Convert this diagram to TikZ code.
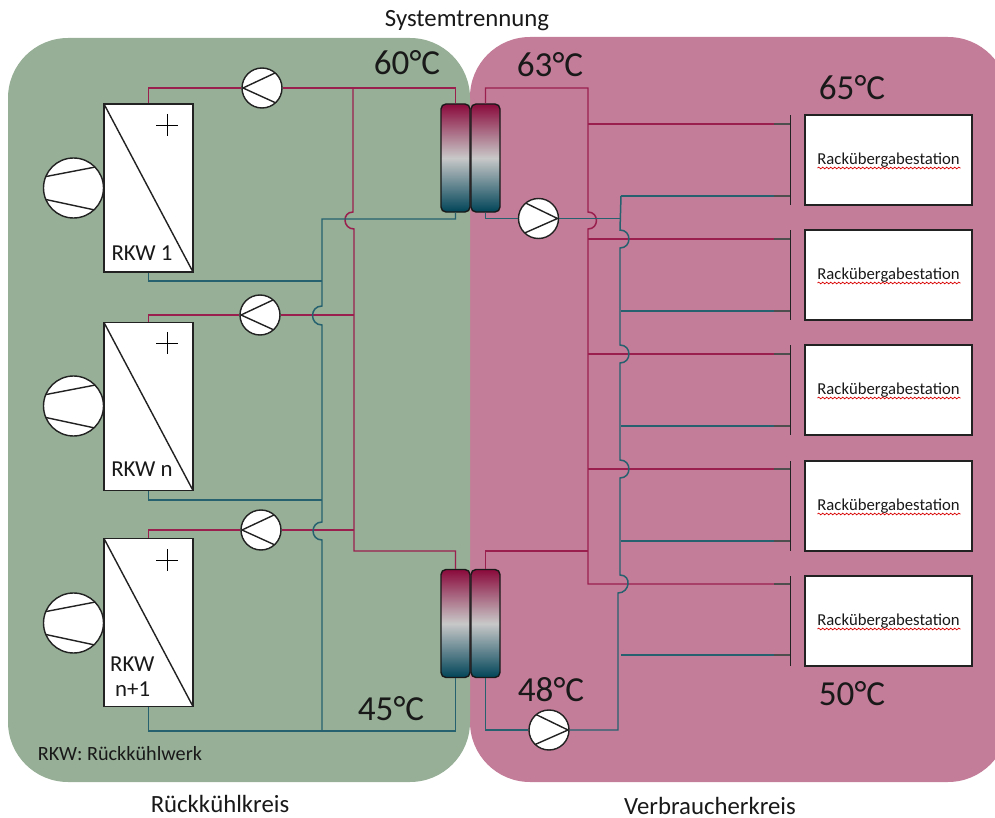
\documentclass[tikz,border=0pt]{standalone}
\usepackage{fontspec}
\setmainfont{Carlito}
\usetikzlibrary{calc, decorations.pathmorphing}
\definecolor{kuehlgreen}{HTML}{96AF96}
\definecolor{verbrpink}{HTML}{C47D98}
\definecolor{hotline}{HTML}{9A1F4F}
\definecolor{coldline}{HTML}{25616F}
\definecolor{hxhot}{HTML}{8A0A3C}
\definecolor{hxmid}{HTML}{C8C8C8}
\definecolor{hxcold}{HTML}{004458}
\definecolor{darkline}{HTML}{222222}

\begin{document}
\begin{tikzpicture}[
    x=0.2mm, y=-0.2mm,
    every node/.style={font=\normalsize, text=black!90},
    hot/.style={draw=hotline, line width=0.85pt},
    cold/.style={draw=coldline, line width=0.85pt},
    stub/.style={draw=darkline!80, line width=0.85pt},
    jumpl/.style={out=180, in=180, looseness=1.7},
    jumpr/.style={out=0, in=0, looseness=1.7},
    rkw/.style={rectangle, draw=darkline, fill=white, line width=0.9pt, minimum width=17.8mm, minimum height=33.6mm, inner sep=0pt,
        path picture={\draw[darkline, line width=0.8pt] (path picture bounding box.north west) -- (path picture bounding box.south east);}},
    fan/.style={circle, draw=darkline, fill=white, line width=0.8pt, minimum size=12mm, inner sep=0pt,
        path picture={\draw[darkline, line width=0.8pt]
            ([shift={(-30,-11)}]path picture bounding box.center) -- ([shift={(22,-21)}]path picture bounding box.center)
            ([shift={(-30,11)}]path picture bounding box.center) -- ([shift={(26,23)}]path picture bounding box.center);}},
    pumpl/.style={circle, draw=darkline, fill=white, line width=0.8pt, minimum size=8mm, inner sep=0pt,
        path picture={\draw[darkline, line width=0.8pt]
            ([shift={(13,-15)}]path picture bounding box.center) -- ([shift={(-19,0)}]path picture bounding box.center) -- ([shift={(14,15)}]path picture bounding box.center);}},
    pumpr/.style={circle, draw=darkline, fill=white, line width=0.8pt, minimum size=8mm, inner sep=0pt,
        path picture={\draw[darkline, line width=0.8pt]
            ([shift={(-14,-16)}]path picture bounding box.center) -- ([shift={(19,0)}]path picture bounding box.center) -- ([shift={(-15,15)}]path picture bounding box.center);}},
    hx/.style={rectangle, rounded corners=1mm, draw=black!90, line width=0.8pt, minimum width=5.8mm, minimum height=21.6mm, inner sep=0pt,
        top color=hxhot, bottom color=hxcold, middle color=hxmid},
    rack/.style={rectangle, draw=darkline, fill=white, line width=0.9pt, minimum width=33.4mm, minimum height=18mm, inner sep=0pt, font=\fontsize{9.5}{11}\selectfont},
    railbar/.style={rectangle, fill=darkline, minimum width=0.8pt, minimum height=18mm, inner sep=0pt},
    plus/.style={draw=black, line width=0.5pt},
    temp/.style={font=\fontsize{20}{24}\selectfont},
    circlab/.style={font=\fontsize{14.1}{17}\selectfont, inner sep=0pt},
    rkwlab/.style={font=\fontsize{13}{16}\selectfont, align=left},
    squig/.style={draw=red!85!black, line width=0.4pt, decorate, decoration={snake, segment length=0.8mm, amplitude=0.18mm}}
]
\useasboundingbox (0,0) rectangle (995,818);

% Circuit backgrounds
\fill[verbrpink, rounded corners=12mm] (470,37) rectangle (1008,782);
\fill[kuehlgreen, rounded corners=12mm] (8,38) rectangle (470,782);

% Dry coolers
\node[rkw] (rkwa) at (148.5,188) {};
\node[rkw] (rkwb) at (148.5,406.5) {};
\node[rkw] (rkwc) at (148.5,622.5) {};
\node[fan] (fana) at (73.5,188) {};
\node[fan] (fanb) at (73.5,406) {};
\node[fan] (fanc) at (73.5,623) {};
\node[pumpl] (pumpa) at (262,88) {};
\node[pumpl] (pumpb) at (260,315) {};
\node[pumpl] (pumpc) at (261,530) {};
\foreach \i/\py in {a/125, b/343, c/560} {
    \draw[plus] (156,\py) -- (178,\py) (167,\py-11) -- (167,\py+11);
}
\node[rkwlab] (laba) at (142,253) {RKW 1};
\node[rkwlab] (labb) at (142,469) {RKW n};
\node[rkwlab, anchor=west] (labc) at (104,664) {RKW};
\node[rkwlab, anchor=west] (labd) at (109,689) {n+1};

% Heat exchangers
\node[hx] (hxal) at (455.5,158) {};
\node[hx] (hxar) at (485.5,158) {};
\node[hx] (hxbl) at (455.5,623.5) {};
\node[hx] (hxbr) at (485.5,623.5) {};

% Consumer side pumps
\node[pumpr] (pumpd) at (538.5,218.5) {};
\node[pumpr] (pumpe) at (549,730) {};

% Rack stations
\foreach \i/\ry/\yh/\yc in {1/160/124/196, 2/275/239/311, 3/390/354/426, 4/506/469/541, 5/621/584/655} {
    \node[rack] (rack\i) at (888.5,\ry) {Rackübergabestation};
    \node[railbar] (bar\i) at (790.5,\ry) {};
    \coordinate (hin\i) at (790,\yh);
    \coordinate (cin\i) at (790,\yc);
    \coordinate (cup\i) at (620,\yh-9);
    \coordinate (cdn\i) at (620,\yh+9);
    \draw[squig] ([shift={(-71,8)}]rack\i.center) -- ([shift={(72,8)}]rack\i.center);
}

% Coordinates of the pipe runs
\coordinate (ltop) at (353,88);
\coordinate (ljup) at (353,212);
\coordinate (ljdn) at (354,229);
\coordinate (lbot) at (354,551);
\coordinate (lcold) at (322,219);
\coordinate (lca) at (322,281);
\coordinate (lcup) at (322,306);
\coordinate (lcdn) at (322,325);
\coordinate (lcb) at (322,500);
\coordinate (lcuq) at (322,522);
\coordinate (lcdq) at (322,540);
\coordinate (lcbot) at (322,731);
\coordinate (rtop) at (588,88);
\coordinate (rjup) at (588,212);
\coordinate (rjdn) at (588,229);
\coordinate (rtee) at (588,551);
\coordinate (rctop) at (621,196);
\coordinate (rcold) at (621,218.5);
\coordinate (cdn5) at (618,593);
\coordinate (rcbot) at (618,730);

% Cooling circuit, hot side
\draw[hot] (rkwa.north) |- (pumpa.west);
\draw[hot] (pumpa.east) -| (hxal.north);
\draw[hot] (ltop) -- (ljup) to[jumpl] (ljdn) -- (lbot) -| (hxbl.north);
\draw[hot] (rkwb.north) |- (pumpb.west);
\draw[hot] (pumpb.east) -- (pumpb.east -| lbot);
\draw[hot] (rkwc.north) |- (pumpc.west);
\draw[hot] (pumpc.east) -- (pumpc.east -| lbot);

% Cooling circuit, cold side
\draw[cold] (hxal.south) |- (lcold) -- (lcup) to[jumpl] (lcdn) -- (lcuq) to[jumpl] (lcdq) -- (lcbot);
\draw[cold] (rkwa.south) |- (lca);
\draw[cold] (rkwb.south) |- (lcb);
\draw[cold] (rkwc.south) |- (lcbot) -| (hxbl.south);

% Consumer circuit, hot side
\draw[hot] (hxar.north) |- (rtop) -- (rjup) to[jumpr] (rjdn) -- (rtop |- hin5) -- (hin5);
\draw[hot] (hxbr.north) |- (rtee);
\foreach \i in {1,2,3,4} {
    \draw[hot] (rtop |- hin\i) -- (hin\i);
}

% Consumer circuit, cold side
\draw[cold] (hxar.south) |- (pumpd.west);
\draw[cold] (pumpd.east) -- (rcold);
\draw[cold] (rctop) -- (cup2) to[jumpr] (cdn2) -- (cup3) to[jumpr] (cdn3) -- (cup4) to[jumpr] (cdn4) -- (cup5) to[jumpr] (cdn5) -- (rcbot) -- (pumpe.east);
\draw[cold] (hxbr.south) |- (pumpe.west);
\foreach \i in {1,2,3,4,5} {
    \draw[cold] (rctop |- cin\i) -- (cin\i);
    \draw[stub] ([xshift=-9pt]hin\i) -- (hin\i);
    \draw[stub] ([xshift=-9pt]cin\i) -- (cin\i);
}

% Labels
\node[circlab] (ttrenn) at (467,21) {Systemtrennung};
\node[circlab] (tkuehl) at (220,804) {Rückkühlkreis};
\node[circlab] (tverb) at (710,806) {Verbraucherkreis};
\node[font=\fontsize{11.5}{14}\selectfont] (tlegend) at (120,754) {RKW: Rückkühlwerk};
\node[temp] (ta) at (407,63) {60°C};
\node[temp] (tb) at (550,65) {63°C};
\node[temp] (tc) at (852,88) {65°C};
\node[temp] (td) at (852,694) {50°C};
\node[temp] (te) at (551,690) {48°C};
\node[temp] (tf) at (391,709) {45°C};
\end{tikzpicture}
\end{document}
